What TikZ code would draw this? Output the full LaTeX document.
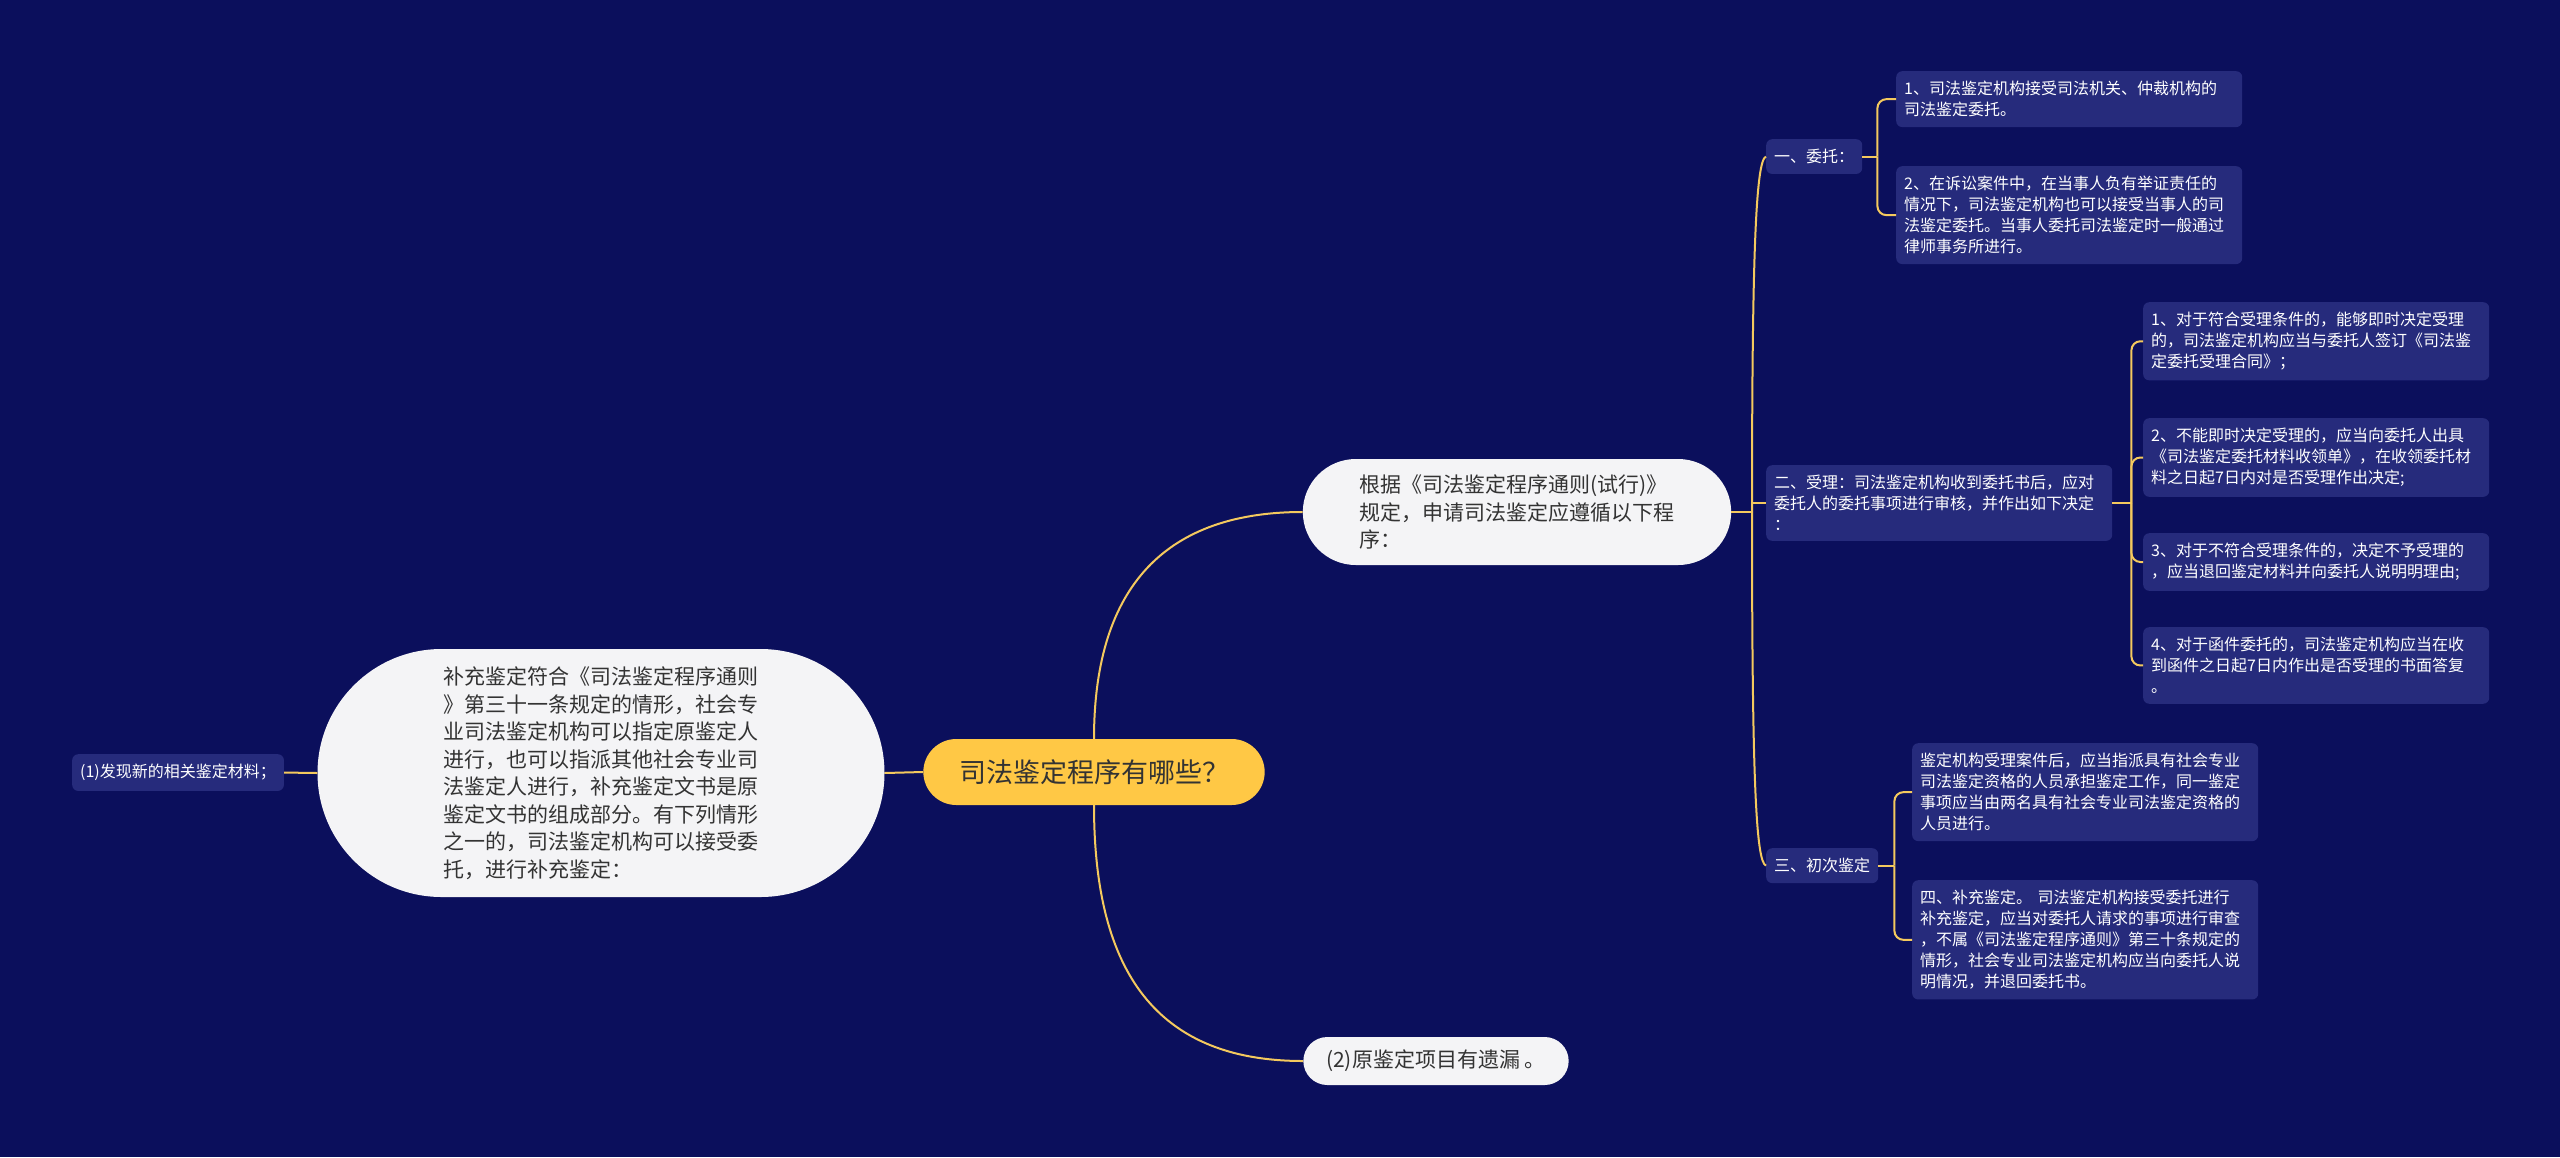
\documentclass[tikz,border=0pt]{standalone}
\usepackage{fontspec}
\setmainfont{Noto Sans CJK SC}
\usetikzlibrary{shapes.misc}
\definecolor{navy}{HTML}{0B0F5C}
\definecolor{leafblue}{HTML}{262B7C}
\definecolor{gold}{HTML}{F4C95E}
\definecolor{topicyellow}{HTML}{FFC845}
\definecolor{pillwhite}{HTML}{F4F4F6}
\definecolor{inkgray}{HTML}{333333}

\begin{document}
\begin{tikzpicture}[
  x=1pt, y=-1pt,
  every node/.style={align=left},
  leaf/.style={fill=leafblue, text=white, rounded corners=6pt, anchor=north west,
    font=\fontsize{16}{21}\selectfont, inner xsep=8pt, inner ysep=10pt},
  wide/.style={text width=330pt},
  pill/.style={rounded rectangle, fill=pillwhite, text=inkgray, font=\fontsize{21}{27.5}\selectfont},
  topic/.style={rounded rectangle, fill=topicyellow, text=inkgray, font=\fontsize{27}{30}\selectfont},
  flow/.style={draw=gold, line width=2pt},
  bracket/.style={flow, rounded corners=9pt}]

\fill[navy] (0,0) rectangle (2560,1157);
\useasboundingbox (0,0) rectangle (2560,1157);

% Position the nodes at their coordinates
\node[topic, minimum width=348pt, minimum height=66pt] (procedureQuestion) at (1094,772) {司法鉴定程序有哪些？};

\node[pill, minimum width=435pt, minimum height=106pt] (generalRule) at (1517,512)
  {根据《司法鉴定程序通则(试行)》\\规定，申请司法鉴定应遵循以下程\\序：};
\node[pill, minimum width=577pt, minimum height=248pt, inner xsep=5pt] (supplementaryAppraisal) at (601,773)
  {补充鉴定符合《司法鉴定程序通则\\》第三十一条规定的情形，社会专\\业司法鉴定机构可以指定原鉴定人\\进行，也可以指派其他社会专业司\\法鉴定人进行，补充鉴定文书是原\\鉴定文书的组成部分。有下列情形\\之一的，司法鉴定机构可以接受委\\托，进行补充鉴定：};
\node[pill, minimum width=272pt, minimum height=48pt] (omittedItem) at (1436,1061) {(2)原鉴定项目有遗漏 。};
\node[leaf] (newMaterial) at (72,754) {(1)发现新的相关鉴定材料；};

\node[leaf] (entrustment) at (1766,139) {一、委托：};
\node[leaf, wide] (acceptance) at (1766,465)
  {二、受理：司法鉴定机构收到委托书后，应对\\委托人的委托事项进行审核，并作出如下决定\\：};
\node[leaf] (initialAppraisal) at (1766,848) {三、初次鉴定};

\node[leaf, wide] (entrustByAuthority) at (1896,71)
  {1、司法鉴定机构接受司法机关、仲裁机构的\\司法鉴定委托。};
\node[leaf, wide] (entrustByParty) at (1896,166)
  {2、在诉讼案件中，在当事人负有举证责任的\\情况下，司法鉴定机构也可以接受当事人的司\\法鉴定委托。当事人委托司法鉴定时一般通过\\律师事务所进行。};

\node[leaf, wide] (acceptNow) at (2143,302)
  {1、对于符合受理条件的，能够即时决定受理\\的，司法鉴定机构应当与委托人签订《司法鉴\\定委托受理合同》；};
\node[leaf, wide] (acceptLater) at (2143,418)
  {2、不能即时决定受理的，应当向委托人出具\\《司法鉴定委托材料收领单》，在收领委托材\\料之日起7日内对是否受理作出决定;};
\node[leaf, wide] (rejectCase) at (2143,533)
  {3、对于不符合受理条件的，决定不予受理的\\，应当退回鉴定材料并向委托人说明明理由;};
\node[leaf, wide] (letterEntrust) at (2143,627)
  {4、对于函件委托的，司法鉴定机构应当在收\\到函件之日起7日内作出是否受理的书面答复\\。};

\node[leaf, wide] (assignAppraisers) at (1912,743)
  {鉴定机构受理案件后，应当指派具有社会专业\\司法鉴定资格的人员承担鉴定工作，同一鉴定\\事项应当由两名具有社会专业司法鉴定资格的\\人员进行。};
\node[leaf, wide] (supplementReview) at (1912,880)
  {四、补充鉴定。 司法鉴定机构接受委托进行\\补充鉴定，应当对委托人请求的事项进行审查\\，不属《司法鉴定程序通则》第三十条规定的\\情形，社会专业司法鉴定机构应当向委托人说\\明情况，并退回委托书。};

% Draw the connectors between the nodes
\draw[flow] (procedureQuestion.west) -- (supplementaryAppraisal.east);
\draw[flow] (supplementaryAppraisal.west) -- (newMaterial.east);
\draw[flow] (procedureQuestion.north) to[out=90,in=180,looseness=1.2] (generalRule.west);
\draw[flow] (procedureQuestion.south) to[out=-90,in=180,looseness=1.2] (omittedItem.west);

\coordinate (ruleJoint) at (1752,512);
\draw[flow] (generalRule.east) -- (ruleJoint);
\draw[flow] (ruleJoint) .. controls (1752,250) and (1756,160) .. (entrustment.west);
\draw[flow] (ruleJoint) |- (acceptance.west);
\draw[flow] (ruleJoint) .. controls (1752,780) and (1756,862) .. (initialAppraisal.west);

\draw[flow] (entrustment.east) -- ++(15,0) coordinate (entrustFork);
\draw[bracket] (entrustFork) |- (entrustByAuthority.west);
\draw[bracket] (entrustFork) |- (entrustByParty.west);

\draw[flow] (acceptance.east) -- ++(19,0) coordinate (acceptFork);
\draw[bracket] (acceptFork) |- (acceptNow.west);
\draw[bracket] (acceptFork) |- (acceptLater.west);
\draw[bracket] (acceptFork) |- (rejectCase.west);
\draw[bracket] (acceptFork) |- (letterEntrust.west);

\draw[flow] (initialAppraisal.east) -- ++(16,0) coordinate (initialFork);
\draw[bracket] (initialFork) |- (assignAppraisers.west);
\draw[bracket] (initialFork) |- (supplementReview.west);
\end{tikzpicture}
\end{document}
